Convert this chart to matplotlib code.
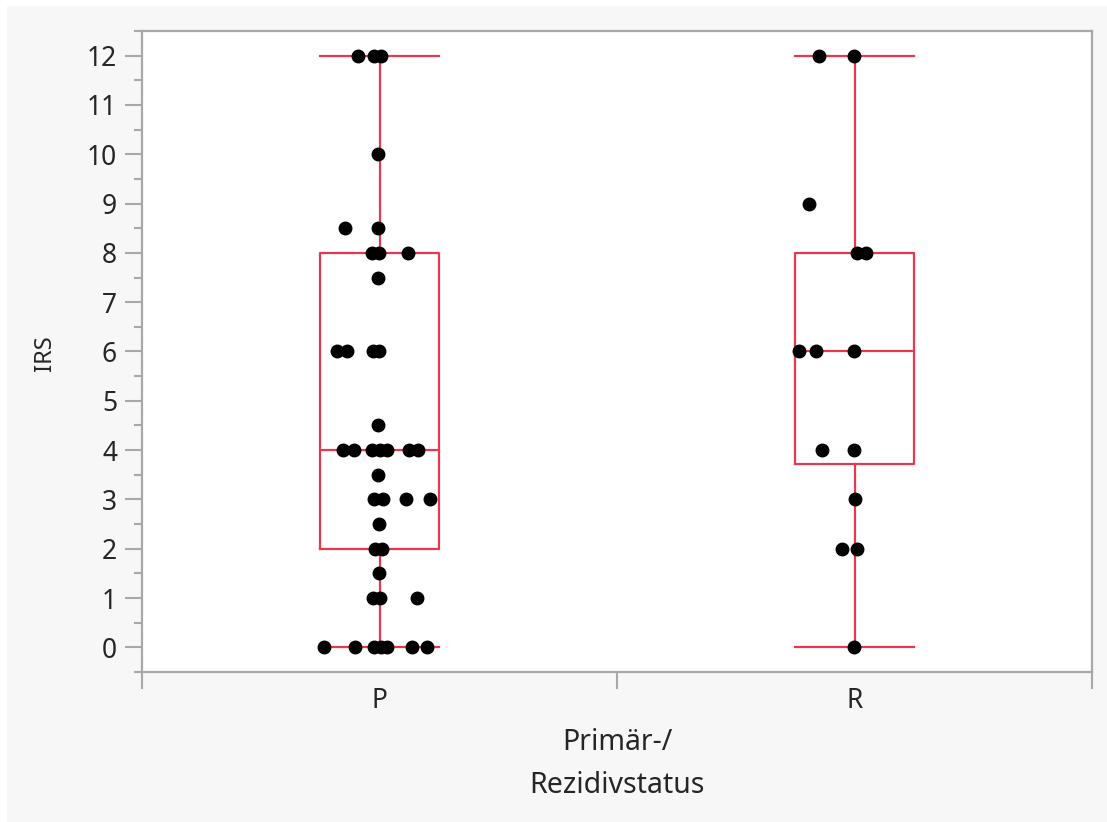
import matplotlib
matplotlib.use("Agg")
import matplotlib.pyplot as plt
from matplotlib.patches import Rectangle
from matplotlib.ticker import MultipleLocator

plt.rcParams['font.family'] = ['Noto Sans', 'DejaVu Sans']

# ---- data ----
categories = ["P", "R"]

p_values = [12, 12, 12, 10, 8.5, 8.5, 8, 8, 8, 7.5, 6, 6, 6, 6, 4.5,
            4, 4, 4, 4, 4, 4, 4, 3.5, 3, 3, 3, 3, 2.5, 2, 2, 1.5,
            1, 1, 1, 0, 0, 0, 0, 0, 0, 0]
p_jitter = [-0.045, -0.012, 0.003, -0.003, -0.073, -0.003, -0.016, -0.001, 0.060,
            -0.003, -0.089, -0.068, -0.013, -0.001, -0.003,
            -0.077, -0.054, -0.016, 0.001, 0.016, 0.062, 0.081, -0.003,
            -0.012, 0.007, 0.056, 0.106, -0.001, -0.009, 0.005, -0.001,
            -0.014, 0.001, 0.079, -0.117, -0.052, -0.012, 0.003, 0.016, 0.068, 0.100]

r_values = [12, 12, 9, 8, 8, 6, 6, 6, 4, 4, 3, 2, 2, 0]
r_jitter = [-0.075, -0.001, -0.096, 0.005, 0.024, -0.117, -0.081, -0.001,
            -0.068, -0.001, 0.001, -0.026, 0.005, -0.001]

# box statistics (q1, median, q3, whisker low, whisker high)
p_box = dict(q1=2.0, med=4.0, q3=8.0, whislo=0.0, whishi=12.0)
r_box = dict(q1=3.72, med=6.0, q3=8.0, whislo=0.0, whishi=12.0)

y_ticks = list(range(0, 13))

# ---- figure ----
W, H, DPI = 1107, 822, 100
fig = plt.figure(figsize=(W / DPI, H / DPI), dpi=DPI, facecolor="white")
fig.patches.append(Rectangle((7 / W, 0), 1 - 7 / W, (H - 6) / H,
                             transform=fig.transFigure, facecolor="#f7f7f7",
                             edgecolor="none", zorder=-10))

left, right, top, bottom = 142, 1092, 31, 672
ax = fig.add_axes([left / W, 1 - bottom / H, (right - left) / W, (bottom - top) / H])
ax.set_facecolor("white")

box_color = "#e8384f"
stats = []
for lab, b in zip(categories, [p_box, r_box]):
    d = dict(b)
    d["label"] = lab
    d["fliers"] = []
    stats.append(d)

ax.bxp(stats, positions=[0, 1], widths=0.25, capwidths=0.25, showfliers=False,
       patch_artist=False,
       boxprops=dict(color=box_color, linewidth=1.6),
       whiskerprops=dict(color=box_color, linewidth=1.6),
       capprops=dict(color=box_color, linewidth=1.6),
       medianprops=dict(color=box_color, linewidth=1.6), zorder=2)

px = [0 + j for j in p_jitter]
rx = [1 + j for j in r_jitter]
ax.plot(px, p_values, "o", color="black", markersize=9, zorder=3, clip_on=False)
ax.plot(rx, r_values, "o", color="black", markersize=9, zorder=3, clip_on=False)

ax.set_xlim(-0.5, 1.5)
ax.set_ylim(-0.5, 12.5)

spine_color = "#a8a8a8"
for s in ax.spines.values():
    s.set_color(spine_color)
    s.set_linewidth(1.6)

text_color = "#262626"
ax.set_yticks(y_ticks)
ax.set_yticklabels([str(t) for t in y_ticks])
ax.yaxis.set_minor_locator(MultipleLocator(0.5))
ax.tick_params(axis="y", which="major", length=12, width=1.5, color=spine_color,
               labelsize=19, labelcolor=text_color, pad=6)
ax.tick_params(axis="y", which="minor", length=6, width=1.5, color=spine_color)

ax.set_xticks([-0.5, 0.5, 1.5])
ax.set_xticklabels(["", "", ""])
ax.tick_params(axis="x", which="major", length=12, width=1.5, color=spine_color)
ax.set_xticks([0, 1], minor=True)
ax.set_xticklabels(categories, minor=True)
ax.tick_params(axis="x", which="minor", length=0, labelsize=19, labelcolor=text_color, pad=11)

fig.text(45 / W, 1 - 353 / H, "IRS", rotation=90, ha="center", va="center",
         fontsize=17, color=text_color)
fig.text(617 / W, 1 - 743 / H, "Primär-/", ha="center", va="center",
         fontsize=20.5, color=text_color)
fig.text(617 / W, 1 - 785 / H, "Rezidivstatus", ha="center", va="center",
         fontsize=20.5, color=text_color)

fig.savefig("out.png", dpi=DPI, facecolor=fig.get_facecolor())
